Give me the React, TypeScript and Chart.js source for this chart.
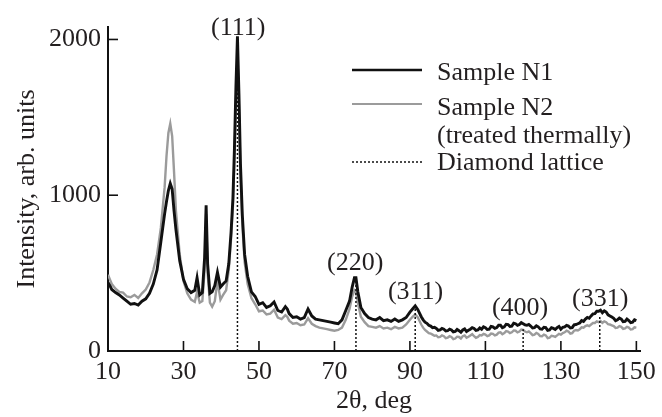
import React, { useEffect, useRef } from 'react';
import { Chart, registerables } from 'chart.js';

Chart.register(...registerables);

// 2θ positions (deg) shared by both samples
const angles = [
  10, 10.5, 11, 12, 13, 14, 15, 16, 17, 18, 19, 20, 21, 22, 23, 24, 25, 25.5, 26, 26.5,
  27, 27.5, 28, 29, 30, 31, 32, 33, 33.6, 34.3, 35, 35.6, 36.0, 36.4, 37, 37.6, 38.3, 39.0, 39.8, 40.5,
  41.3, 42, 42.6, 43.1, 43.5, 43.9, 44.3, 44.7, 45.1, 45.6, 46.2, 47, 48, 49, 50, 51, 52, 53, 54, 55,
  56, 57, 57.5, 58, 59, 60, 61, 62, 63, 64, 65, 66, 67, 68, 69, 70, 71, 72, 73, 74,
  74.7, 75.3, 75.7, 76.2, 77, 78, 79, 80, 81, 82, 83, 84, 85, 86, 87, 88, 89, 90, 90.7, 91.4,
  92.1,
  93, 93.5, 94, 94.5, 95, 95.5, 96, 96.5, 97, 97.5,
  98, 98.5, 99, 99.5, 100, 100.5, 101, 101.5, 102, 102.5,
  103, 103.5, 104, 104.5, 105, 105.5, 106, 106.5, 107, 107.5,
  108, 108.5, 109, 109.5, 110, 110.5, 111, 111.5, 112, 112.5,
  113, 113.5, 114, 114.5, 115, 115.5, 116, 116.5, 117, 117.5,
  118, 118.5, 119, 119.5, 120, 120.5, 121, 121.5, 122, 122.5,
  123, 123.5, 124, 124.5, 125, 125.5, 126, 126.5, 127, 127.5,
  128, 128.5, 129, 129.5, 130, 130.5, 131, 131.5, 132, 132.5,
  133, 133.5, 134, 134.5, 135, 135.5, 136, 136.5, 137, 137.5,
  138, 138.5, 139, 139.5, 140, 140.5, 141, 141.5, 142, 142.5,
  143, 143.5, 144, 144.5, 145, 145.5, 146, 146.5, 147, 147.5,
  148, 148.5, 149, 149.5, 150,
];

const sampleN1 = [
  440, 420, 395, 375, 360, 340, 320, 300, 305, 295, 320, 335, 370, 430, 520, 700, 880, 960, 1030, 1075,
  1040, 900, 780, 580, 460, 400, 375, 390, 470, 360, 375, 600, 935, 560, 370, 380, 420, 505, 410, 430,
  450, 560, 760, 980, 1300, 1700, 2020, 1650, 1200, 870, 620, 480, 380, 350, 300, 310, 280, 290, 315, 260,
  250, 285, 270, 240, 215, 220, 205, 215, 270, 225, 205, 200, 195, 190, 185, 180, 175, 200, 260, 320,
  410, 470, 470, 380, 280, 240, 215, 205, 200, 215, 195, 200, 190, 205, 190, 200, 215, 250, 270, 290,
  265,
  220, 200, 185, 178, 165, 160, 150, 152, 145, 132,
  135, 145, 140, 128, 130, 140, 135, 122, 125, 138,
  130, 120, 135, 142, 125, 133, 140, 150, 145, 132,
  135, 148, 140, 155, 150, 138, 140, 158, 155, 145,
  150, 165, 165, 150, 155, 172, 170, 158, 160, 178,
  175, 165, 170, 182, 175, 168, 165, 170, 160, 148,
  150, 162, 155, 142, 140, 152, 150, 132, 135, 150,
  145, 138, 150, 158, 140, 152, 155, 165, 160, 148,
  150, 168, 170, 175, 180, 195, 190, 205, 215, 210,
  225, 238, 240, 255, 255, 262, 245, 258, 250, 232,
  225, 218, 210, 195, 200, 212, 205, 188, 190, 205,
  195, 182, 185, 200, 195,
];

const sampleN2 = [
  490, 460, 430, 400, 380, 375, 350, 345, 360, 340, 370, 395, 440, 520, 620, 790, 1050, 1250, 1400, 1460,
  1380, 1150, 900, 620, 450, 370, 330, 315, 380, 310, 320, 520, 880, 500, 310, 285, 320, 450, 330, 360,
  390, 520, 720, 930, 1220, 1600, 1900, 1560, 1130, 810, 570, 430, 340, 300, 255, 260, 235, 240, 265, 215,
  205, 230, 220, 195, 175, 180, 165, 170, 210, 175, 160, 150, 145, 140, 135, 130, 135, 150, 200, 270,
  350, 390, 380, 310, 220, 185, 160, 155, 150, 160, 145, 150, 140, 155, 145, 150, 170, 200, 220, 235,
  215,
  170, 150, 135, 125, 115, 112, 105, 98, 100, 88,
  90, 100, 95, 82, 85, 95, 90, 76, 80, 92,
  90, 80, 95, 100, 85, 92, 100, 108, 95, 85,
  90, 102, 100, 110, 105, 95, 100, 112, 110, 100,
  105, 118, 120, 108, 115, 128, 125, 115, 120, 132,
  130, 120, 125, 138, 135, 125, 120, 126, 115, 102,
  105, 116, 110, 96, 95, 105, 100, 82, 85, 98,
  95, 90, 100, 110, 105, 115, 120, 130, 125, 112,
  115, 130, 135, 132, 140, 152, 150, 160, 165, 160,
  170, 180, 180, 190, 185, 192, 180, 190, 185, 172,
  170, 165, 160, 148, 150, 160, 155, 142, 145, 155,
  150, 138, 140, 152, 150,
];

// Diamond lattice reflections
const latticeAngles = [44.3, 75.7, 91.4, 120.0, 140.3];
const latticeHeights = [1960, 470, 270, 140, 230];

const peakLabels = ['(111)', '(220)', '(311)', '(400)', '(331)'];
const peakLabelAngles = [44.5, 75.5, 91.5, 119.2, 140.4];
const peakLabelLevels = [2074, 565, 378, 277, 331];

const xTicks = [10, 30, 50, 70, 90, 110, 130, 150];
const yTicks = [0, 1000, 2000];

const legendNames = [['Sample N1'], ['Sample N2', '(treated thermally)'], ['Diamond lattice']];

const FONT = '"Liberation Serif", "Times New Roman", serif';
const FS = 26;
const TEXT = '#231f20';
const BLACK = '#111111';
const GRAY = '#9b9b9b';

export default function App() {
  const ref = useRef<HTMLCanvasElement | null>(null);

  useEffect(() => {
    document.body.style.margin = '0';
    const canvas = ref.current;
    if (!canvas) return;

    const innerTicks = {
      id: 'innerTicks',
      afterDraw(chart: any) {
        const { ctx, chartArea, scales } = chart;
        const xs = scales.x;
        const ys = scales.y;
        ctx.save();
        ctx.strokeStyle = BLACK;
        ctx.lineWidth = 1.6;
        xs.ticks.forEach((t: any) => {
          const px = xs.getPixelForValue(t.value);
          ctx.beginPath();
          ctx.moveTo(px, chartArea.bottom);
          ctx.lineTo(px, chartArea.bottom - 10);
          ctx.stroke();
        });
        ys.ticks.forEach((t: any) => {
          const py = ys.getPixelForValue(t.value);
          ctx.beginPath();
          ctx.moveTo(chartArea.left, py);
          ctx.lineTo(chartArea.left + 10, py);
          ctx.stroke();
        });

        // peak labels
        ctx.fillStyle = TEXT;
        ctx.font = `${FS}px ${FONT}`;
        ctx.textAlign = 'center';
        ctx.textBaseline = 'middle';
        peakLabels.forEach((lab, i) => {
          ctx.fillText(lab, xs.getPixelForValue(peakLabelAngles[i]), ys.getPixelForValue(peakLabelLevels[i]));
        });

        // legend
        const lx0 = 352;
        const lx1 = 422;
        const tx = 437;
        const lineYs = [70, 104, 162];
        const baselines = [[80], [115, 143], [170]];
        const styles = [
          { color: BLACK, width: 2.5, dash: [] as number[] },
          { color: GRAY, width: 2.2, dash: [] as number[] },
          { color: BLACK, width: 1.5, dash: [2, 2] },
        ];
        ctx.textAlign = 'left';
        ctx.textBaseline = 'alphabetic';
        legendNames.forEach((lines, i) => {
          const s = styles[i];
          ctx.save();
          ctx.strokeStyle = s.color;
          ctx.lineWidth = s.width;
          ctx.setLineDash(s.dash);
          ctx.beginPath();
          ctx.moveTo(lx0, lineYs[i]);
          ctx.lineTo(lx1, lineYs[i]);
          ctx.stroke();
          ctx.restore();
          lines.forEach((txt, j) => ctx.fillText(txt, tx, baselines[i][j]));
        });
        ctx.restore();
      },
    };

    const latticeData: any[] = [];
    latticeAngles.forEach((a, i) => {
      latticeData.push({ x: a, y: 0 }, { x: a, y: latticeHeights[i] }, { x: a, y: null });
    });

    const chart = new Chart(canvas, {
      type: 'line',
      data: {
        datasets: [
          {
            label: 'Diamond lattice',
            data: latticeData,
            borderColor: BLACK,
            borderWidth: 1.5,
            borderDash: [2, 2],
            pointRadius: 0,
            spanGaps: false,
            tension: 0,
          },
          {
            label: 'Sample N1',
            data: angles.map((a, i) => ({ x: a, y: sampleN1[i] })),
            borderColor: BLACK,
            borderWidth: 2.9,
            pointRadius: 0,
            tension: 0,
          },
          {
            label: 'Sample N2 (treated thermally)',
            data: angles.map((a, i) => ({ x: a, y: sampleN2[i] })),
            borderColor: GRAY,
            borderWidth: 2.4,
            pointRadius: 0,
            tension: 0,
          },
        ],
      },
      options: {
        responsive: false,
        animation: false,
        devicePixelRatio: 1,
        layout: { padding: { left: 0, top: 27, right: 19, bottom: 0 } },
        plugins: { legend: { display: false }, tooltip: { enabled: false } },
        scales: {
          x: {
            type: 'linear',
            min: 10,
            max: 151,
            afterBuildTicks: (s: any) => {
              s.ticks = xTicks.map((v) => ({ value: v }));
            },
            afterFit: (s: any) => {
              s.height = 66;
            },
            grid: { display: false, drawTicks: false },
            border: { display: true, color: BLACK, width: 2 },
            ticks: {
              color: TEXT,
              font: { family: FONT, size: FS },
              padding: 6,
              maxRotation: 0,
              callback: (v: any) => String(v),
            },
            title: { display: true, text: '2θ, deg', color: TEXT, font: { family: FONT, size: FS }, padding: { top: 0, bottom: 0 } },
          },
          y: {
            type: 'linear',
            min: 0,
            max: 2080,
            afterBuildTicks: (s: any) => {
              s.ticks = yTicks.map((v) => ({ value: v }));
            },
            afterFit: (s: any) => {
              s.width = 108;
            },
            grid: { display: false, drawTicks: false },
            border: { display: true, color: BLACK, width: 2 },
            ticks: {
              color: TEXT,
              font: { family: FONT, size: FS },
              padding: 7,
              callback: (v: any) => String(v),
            },
            title: { display: true, text: 'Intensity, arb. units', color: TEXT, font: { family: FONT, size: FS }, padding: { top: 12, bottom: 0 } },
          },
        },
      },
      plugins: [innerTicks],
    });

    return () => chart.destroy();
  }, []);

  return (
    <div style={{ width: 662, height: 417, background: '#fff' }}>
      <canvas ref={ref} width={662} height={417} style={{ display: 'block' }} />
    </div>
  );
}
